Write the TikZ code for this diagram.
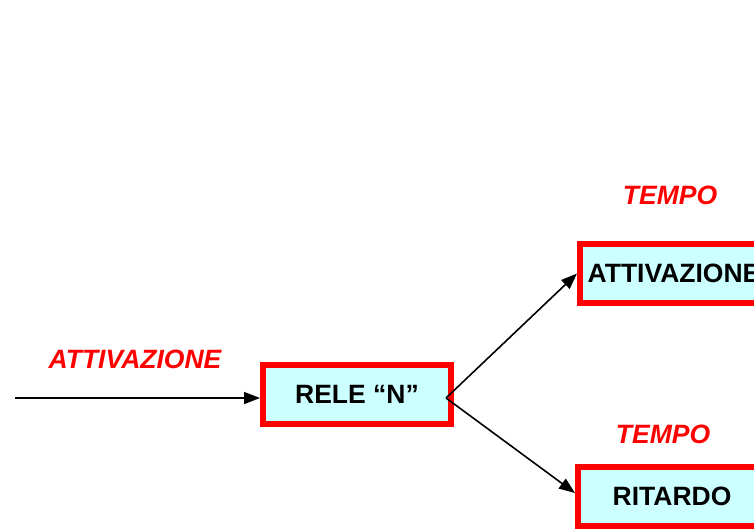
\documentclass[tikz,border=0pt]{standalone}
\usepackage{fontspec}
\setmainfont{Liberation Sans}
\usetikzlibrary{arrows.meta}
\definecolor{boxfill}{HTML}{CCFFFF}
\begin{document}
\begin{tikzpicture}[x=1pt,y=-1pt,
  box/.style={draw=red, fill=boxfill, line width=6pt, minimum width=188pt, minimum height=59pt, inner sep=0pt,
    font=\fontsize{26.5}{31}\selectfont\bfseries},
  lbl/.style={text=red, font=\fontsize{26.5}{31}\selectfont\bfseries\itshape, inner sep=0pt},
  arr/.style={line width=1.6pt, -{Triangle[length=16pt,width=12pt]}}]
\useasboundingbox (0,0) rectangle (754,528);
\clip (0,0) rectangle (754,528);
\node[box] (rele) at (357,394.5) {RELE “N”};
\node[box] (attiv) at (674,273.5) {ATTIVAZIONE};
\node[box] (rit) at (672,496) {RITARDO};
\node[lbl] (lin) at (135,359) {ATTIVAZIONE};
\node[lbl] (t1) at (670,195) {TEMPO};
\node[lbl] (t2) at (663,434) {TEMPO};
\coordinate (in) at (15,398);
\coordinate (s) at (446,398);
\draw[arr] (in) -- (in -| rele.west);
\draw[arr] (s) -- (attiv.west);
\draw[arr] (s) -- ([yshift=3pt]rit.west);
\end{tikzpicture}
\end{document}
